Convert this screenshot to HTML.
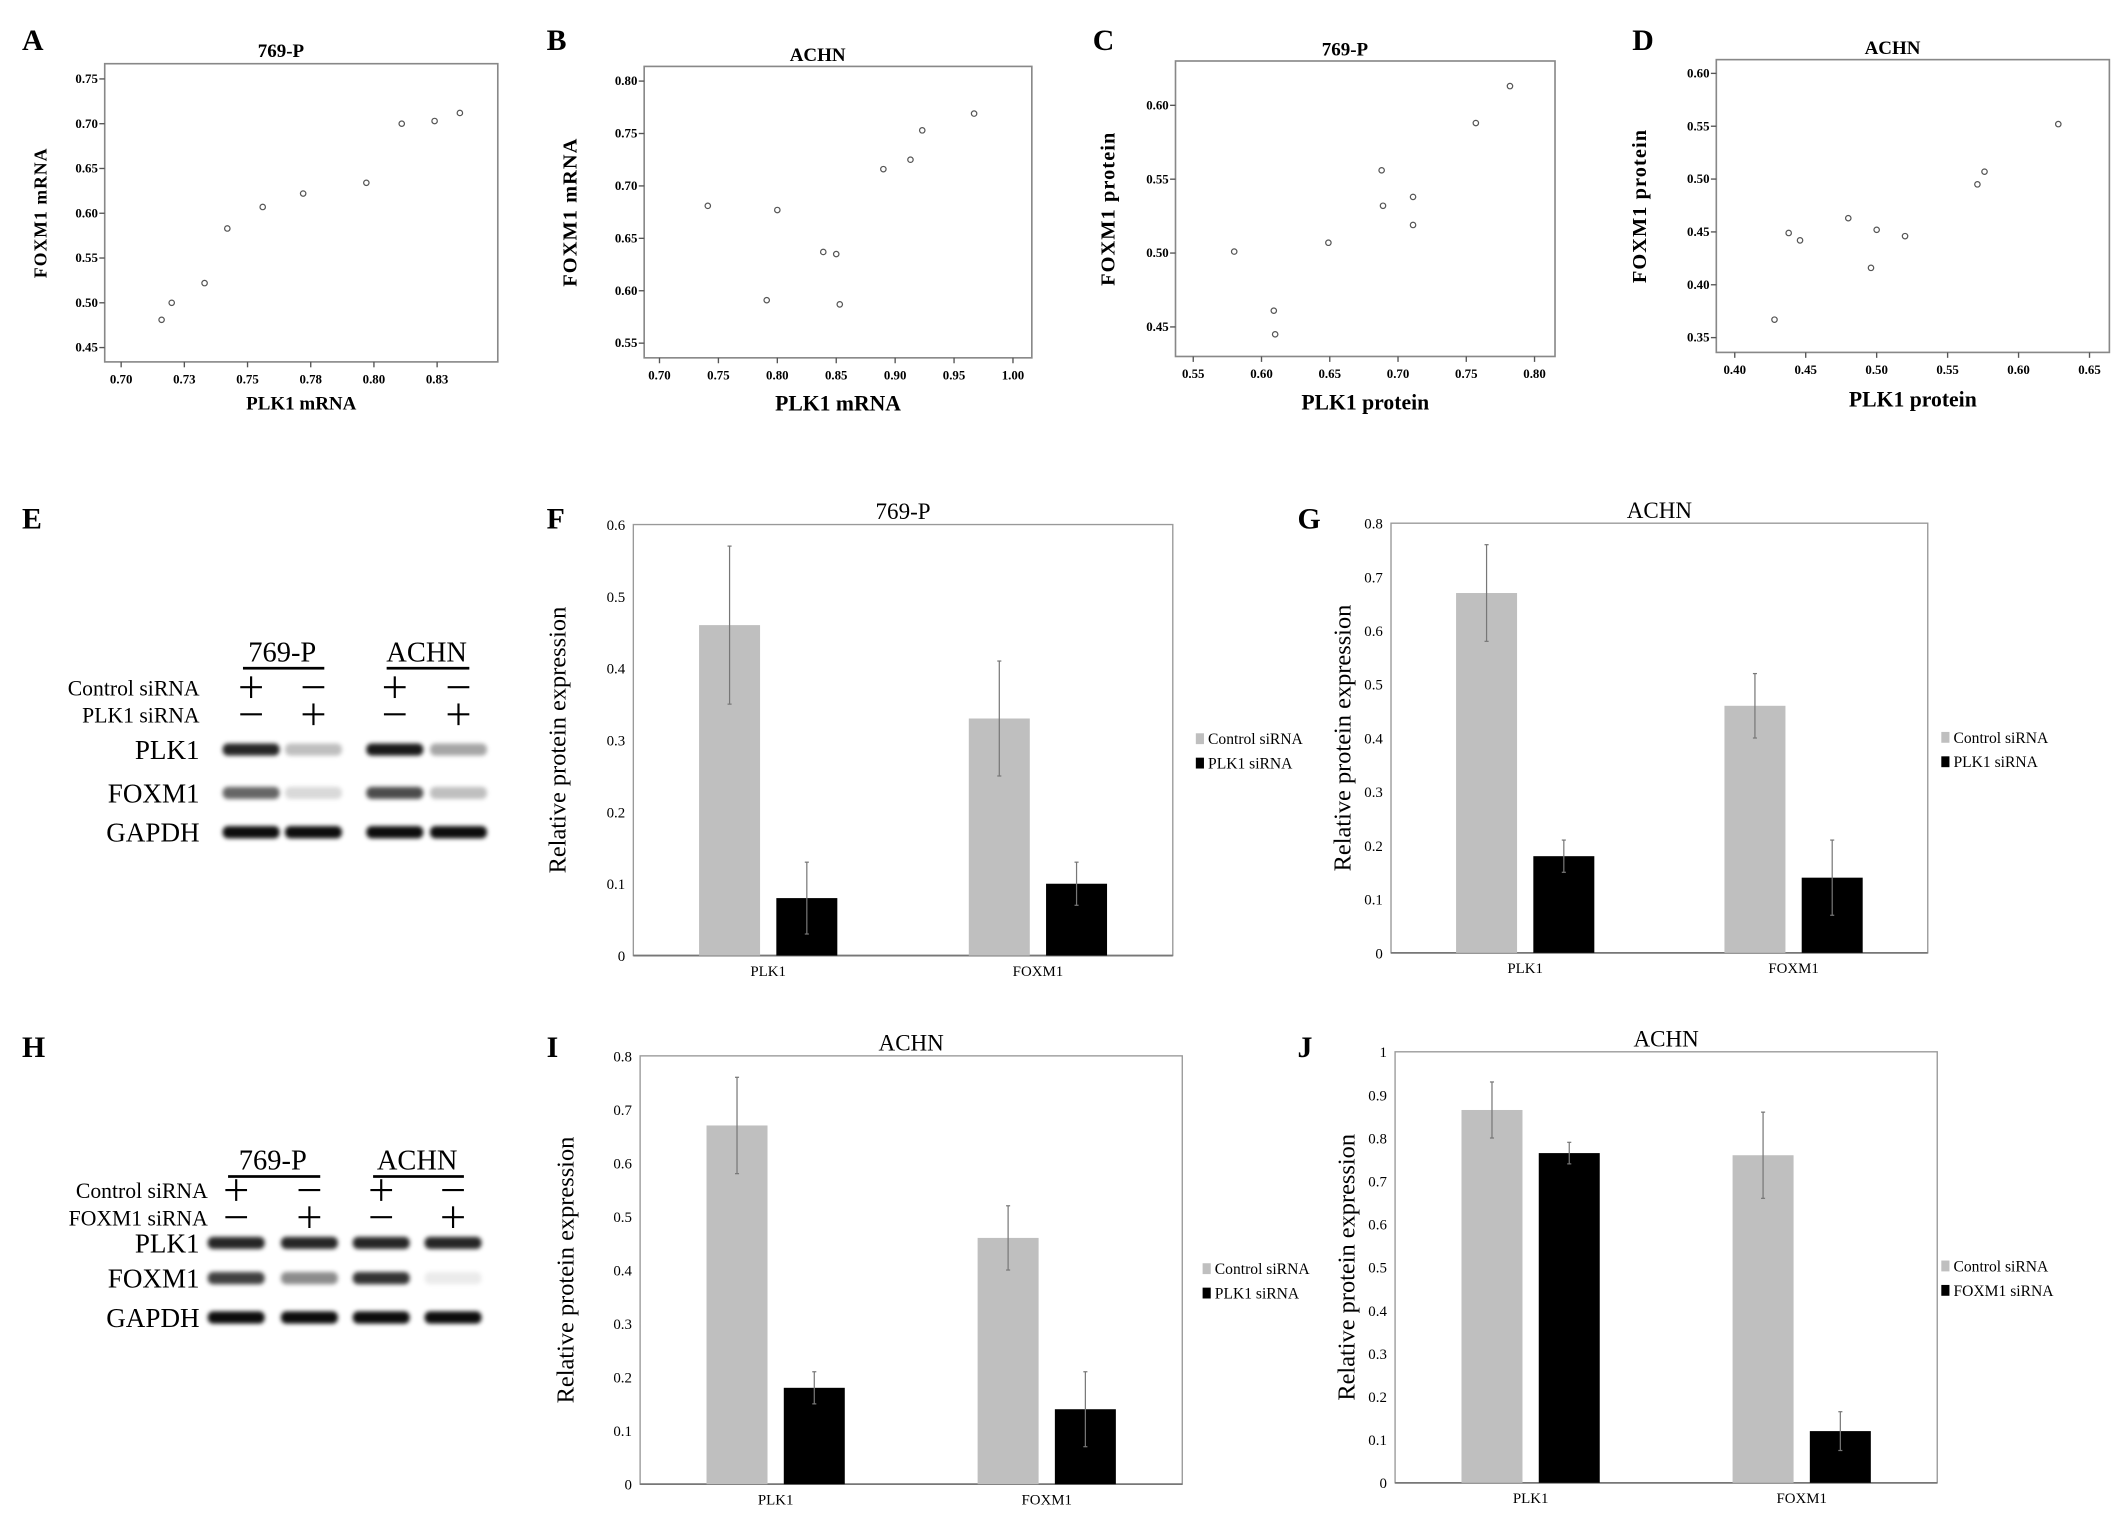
<!DOCTYPE html>
<html><head><meta charset="utf-8">
<style>
html,body{margin:0;padding:0;background:#fff;}
svg{display:block;}
text{font-family:"Liberation Serif",serif;}
</style></head>
<body>
<svg id="fig" width="2126" height="1514" viewBox="0 0 1568 1117" xmlns="http://www.w3.org/2000/svg">
<defs>
<filter id="blur" x="-20%" y="-100%" width="140%" height="300%"><feGaussianBlur stdDeviation="1.6"/></filter>
</defs>
<g id="root"></g>
</svg>
<script>
// ---------- Scatter data ----------
const aX=[0.716,0.720,0.733,0.742,0.756,0.772,0.797,0.811,0.824,0.834];
const aY=[0.481,0.500,0.522,0.583,0.607,0.622,0.634,0.700,0.703,0.712];
const aXTicks=["0.70","0.73","0.75","0.78","0.80","0.83"];
const aXTickVals=[0.70,0.725,0.75,0.775,0.80,0.825];
const aYTicks=[0.45,0.50,0.55,0.60,0.65,0.70,0.75];

const bX=[0.741,0.800,0.791,0.839,0.850,0.853,0.890,0.913,0.923,0.967];
const bY=[0.681,0.677,0.591,0.637,0.635,0.587,0.716,0.725,0.753,0.769];
const bXTicks=[0.70,0.75,0.80,0.85,0.90,0.95,1.00];
const bYTicks=[0.55,0.60,0.65,0.70,0.75,0.80];

const cX=[0.580,0.609,0.610,0.649,0.688,0.689,0.711,0.711,0.757,0.782];
const cY=[0.501,0.461,0.445,0.507,0.556,0.532,0.538,0.519,0.588,0.613];
const cXTicks=[0.55,0.60,0.65,0.70,0.75,0.80];
const cYTicks=[0.45,0.50,0.55,0.60];

const dX=[0.428,0.438,0.446,0.480,0.500,0.496,0.520,0.571,0.576,0.628];
const dY=[0.367,0.449,0.442,0.463,0.452,0.416,0.446,0.495,0.507,0.552];
const dXTicks=[0.40,0.45,0.50,0.55,0.60,0.65];
const dYTicks=[0.35,0.40,0.45,0.50,0.55,0.60];

// ---------- Bar data ----------
const barCats=["PLK1","FOXM1"];
const fCtrl=[0.46,0.33], fCtrlErr=[0.11,0.08];
const fSi=[0.08,0.10], fSiErr=[0.05,0.03];
const fTicks=["0","0.1","0.2","0.3","0.4","0.5","0.6"];
const gCtrl=[0.67,0.46], gCtrlErr=[0.09,0.06];
const gSi=[0.18,0.14], gSiErr=[0.03,0.07];
const gTicks=["0","0.1","0.2","0.3","0.4","0.5","0.6","0.7","0.8"];
const iCtrl=[0.67,0.46], iCtrlErr=[0.09,0.06];
const iSi=[0.18,0.14], iSiErr=[0.03,0.07];
const iTicks=["0","0.1","0.2","0.3","0.4","0.5","0.6","0.7","0.8"];
const jCtrl=[0.865,0.76], jCtrlErr=[0.065,0.10];
const jSi=[0.765,0.12], jSiErr=[0.025,0.045];
const jTicks=["0","0.1","0.2","0.3","0.4","0.5","0.6","0.7","0.8","0.9","1"];

const NS="http://www.w3.org/2000/svg";
const root=document.getElementById('root');
function el(tag,attrs,parent,txt){const e=document.createElementNS(NS,tag);for(const k in attrs)e.setAttribute(k,attrs[k]);if(txt!==undefined)e.textContent=txt;(parent||root).appendChild(e);return e;}
function grp(name){const g=el('g',{});return g;}

function scatter(o){
  const g=grp(o.name);
  const sx=v=>o.L+(v-o.x0)/(o.x1-o.x0)*(o.R-o.L);
  const sy=v=>o.B-(v-o.y0)/(o.y1-o.y0)*(o.B-o.T);
  const lab=el('text',{x:o.lx,y:37,'font-size':22,'font-weight':'bold'},g,o.letter);
  
  const t=el('text',{x:(o.L+o.R)/2-15,y:o.ty,'font-size':14,'font-weight':'bold','text-anchor':'middle'},g,o.title);
  
  const fr=el('rect',{x:o.L,y:o.T,width:o.R-o.L,height:o.B-o.T,fill:'none',stroke:'#888','stroke-width':1.2},g);
  
  o.xt.forEach((v,i)=>{const x=sx(v);
    el('line',{x1:x,y1:o.B,x2:x,y2:o.B+4,stroke:'#555'},g);
    const tt=el('text',{x:x,y:o.B+16,'font-size':9.5,'font-weight':'bold','text-anchor':'middle'},g,o.xl?o.xl[i]:v.toFixed(2));
    });
  o.yt.forEach(v=>{const y=sy(v);
    el('line',{x1:o.L-4,y1:y,x2:o.L,y2:y,stroke:'#555'},g);
    const tt=el('text',{x:o.L-5,y:y+3,'font-size':9.5,'font-weight':'bold','text-anchor':'end'},g,v.toFixed(2));
    });
  o.xs.forEach((v,i)=>{const c=el('circle',{cx:sx(v),cy:sy(o.ys[i]),r:2,fill:'none',stroke:'#555','stroke-width':0.9},g);
    });
  const xt=el('text',{x:(o.L+o.R)/2,y:o.xty,'font-size':o.fs,'font-weight':'bold','text-anchor':'middle'},g,o.xtitle);
  
  const yt=el('text',{x:0,y:0,'font-size':o.fs-1,'font-weight':'bold','text-anchor':'middle','letter-spacing':0.8,transform:`translate(${o.ytx},${(o.T+o.B)/2}) rotate(-90)`},g,o.ytitle);
  
}
scatter({name:'panel-a-scatter',letter:'A',lx:16,title:'769-P',ty:42,L:77,R:367,T:47,B:267,x0:0.6935,x1:0.849,y0:0.434,y1:0.767,xs:aX,ys:aY,xt:aXTickVals,xl:aXTicks,yt:aYTicks,xtitle:'PLK1 mRNA',xty:302,ytitle:'FOXM1 mRNA',ytx:34,fs:14});
scatter({name:'panel-b-scatter',letter:'B',lx:403,title:'ACHN',ty:45,L:475,R:761,T:49,B:264,x0:0.687,x1:1.016,y0:0.536,y1:0.814,xs:bX,ys:bY,xt:bXTicks,yt:bYTicks,xtitle:'PLK1 mRNA',xty:303,ytitle:'FOXM1 mRNA',ytx:425,fs:16});
scatter({name:'panel-c-scatter',letter:'C',lx:806,title:'769-P',ty:41,L:867,R:1147,T:45,B:263,x0:0.537,x1:0.815,y0:0.430,y1:0.630,xs:cX,ys:cY,xt:cXTicks,yt:cYTicks,xtitle:'PLK1 protein',xty:302,ytitle:'FOXM1 protein',ytx:822,fs:16});
scatter({name:'panel-d-scatter',letter:'D',lx:1204,title:'ACHN',ty:40,L:1266,R:1556,T:44,B:260,x0:0.387,x1:0.664,y0:0.336,y1:0.613,xs:dX,ys:dY,xt:dXTicks,yt:dYTicks,xtitle:'PLK1 protein',xty:300,ytitle:'FOXM1 protein',ytx:1214,fs:16});

function bars(o){
  const g=grp(o.name);
  const n=o.ticks.length-1, ymax=parseFloat(o.ticks[n]);
  const sy=v=>o.B-v/ymax*(o.B-o.T);
  const lab=el('text',{x:o.lx,y:o.ly,'font-size':22,'font-weight':'bold'},g,o.letter);
  
  const t=el('text',{x:(o.L+o.R)/2,y:o.T-4,'font-size':17,'text-anchor':'middle'},g,o.title);
  
  const fr=el('rect',{x:o.L,y:o.T,width:o.R-o.L,height:o.B-o.T,fill:'none',stroke:'#999','stroke-width':1},g);
  
  el('line',{x1:o.L,y1:o.B,x2:o.R,y2:o.B,stroke:'#777','stroke-width':1.3},g);
  o.ticks.forEach(s=>{const v=parseFloat(s);const tt=el('text',{x:o.L-6,y:sy(v)+4,'font-size':11,'text-anchor':'end'},g,s);
    });
  const W=o.R-o.L, catW=W/barCats.length, bw=45;
  barCats.forEach((c,i)=>{
    const cx=o.L+catW*(i+0.5);
    [[o.ctrl,o.ctrlErr,'#bfbfbf',-bw-6,'control-bar'],[o.si,o.siErr,'#000',6,'sirna-bar']].forEach(([vals,errs,col,off,nm])=>{
      const v=vals[i],x=cx+off;
      const r=el('rect',{x:x,y:sy(v),width:bw,height:o.B-sy(v),fill:col},g);
      
      const ex=x+bw/2;
      const e=el('line',{x1:ex,y1:sy(v-errs[i]),x2:ex,y2:sy(v+errs[i]),stroke:'#777','stroke-width':0.9},g);
      
      el('line',{x1:ex-1.5,y1:sy(v+errs[i]),x2:ex+1.5,y2:sy(v+errs[i]),stroke:'#777','stroke-width':0.9},g);
      el('line',{x1:ex-1.5,y1:sy(v-errs[i]),x2:ex+1.5,y2:sy(v-errs[i]),stroke:'#777','stroke-width':0.9},g);
    });
    const ct=el('text',{x:cx,y:o.B+15,'font-size':11,'text-anchor':'middle'},g,c);
    
  });
  const yt=el('text',{x:0,y:0,'font-size':18,'text-anchor':'middle',transform:`translate(${o.ytx},${(o.T+o.B)/2}) rotate(-90)`},g,'Relative protein expression');
  
  const lg=el('g',{},g);
  const names=['Control siRNA',o.siName];
  ['#bfbfbf','#000'].forEach((col,k)=>{
    const y=o.legY+k*18;
    el('rect',{x:o.legX,y:y-5,width:6,height:8,fill:col},lg);
    const lt=el('text',{x:o.legX+9,y:y+3,'font-size':11.5},lg,names[k]);
    
  });
}
bars({name:'panel-f-bars',letter:'F',lx:403,ly:390,title:'769-P',L:467,R:865,T:387,B:705,ticks:fTicks,ctrl:fCtrl,ctrlErr:fCtrlErr,si:fSi,siErr:fSiErr,ytx:417,legX:882,legY:546,siName:'PLK1 siRNA'});
bars({name:'panel-g-bars',letter:'G',lx:957,ly:390,title:'ACHN',L:1026,R:1422,T:386,B:703,ticks:gTicks,ctrl:gCtrl,ctrlErr:gCtrlErr,si:gSi,siErr:gSiErr,ytx:996,legX:1432,legY:545,siName:'PLK1 siRNA'});
bars({name:'panel-i-bars',letter:'I',lx:403,ly:780,title:'ACHN',L:472,R:872,T:779,B:1095,ticks:iTicks,ctrl:iCtrl,ctrlErr:iCtrlErr,si:iSi,siErr:iSiErr,ytx:423,legX:887,legY:937,siName:'PLK1 siRNA'});
bars({name:'panel-j-bars',letter:'J',lx:957,ly:780,title:'ACHN',L:1029,R:1429,T:776,B:1094,ticks:jTicks,ctrl:jCtrl,ctrlErr:jCtrlErr,si:jSi,siErr:jSiErr,ytx:999,legX:1432,legY:935,siName:'FOXM1 siRNA'});

// ---------- Western blots ----------
const eLanes=[185,231,291,338];
const eRowNames=['PLK1','FOXM1','GAPDH'];
const eRowY=[553,585,614];
const eIntensity=[[0.85,0.25,0.9,0.35],[0.6,0.15,0.7,0.25],[0.95,0.95,0.95,0.95]];
const hLanes=[174,228,281,334];
const hRowNames=['PLK1','FOXM1','GAPDH'];
const hRowY=[917,943,972];
const hIntensity=[[0.85,0.85,0.85,0.85],[0.75,0.45,0.8,0.08],[0.95,0.95,0.95,0.95]];

function blot(o){
  const g=grp(o.name);
  const lab=el('text',{x:o.lx,y:o.ly,'font-size':22,'font-weight':'bold'},g,o.letter);
  
  [[o.h1,0],[o.h2,2]].forEach(([h,k])=>{
    const cx=(o.lanes[k]+o.lanes[k+1])/2;
    const t=el('text',{x:cx,y:o.hy,'font-size':21,'text-anchor':'middle'},g,h);
    
    el('rect',{x:o.lanes[k]-6,y:o.hy+4,width:o.lanes[k+1]-o.lanes[k]+14,height:2,fill:'#000'},g);
  });
  o.treat.forEach((name,r)=>{
    const y=o.ty[r];
    const t=el('text',{x:o.tx,y:y+6,'font-size':16,'text-anchor':'end'},g,name);
    
    o.lanes.forEach((x,li)=>{
      const plus=(r===0)===(li%2===0);
      el('line',{x1:x-8,y1:y,x2:x+8,y2:y,stroke:'#000','stroke-width':1.6},g);
      if(plus)el('line',{x1:x,y1:y-8,x2:x,y2:y+8,stroke:'#000','stroke-width':1.6},g);
    });
  });
  o.rows.forEach((name,r)=>{
    const y=o.ry[r];
    const t=el('text',{x:o.rx,y:y+7,'font-size':20,'text-anchor':'end'},g,name);
    
    o.lanes.forEach((x,li)=>{
      const v=o.inten[r][li];
      const b=el('rect',{x:x-21,y:y-4.5,width:42,height:9,rx:4,fill:'#000','fill-opacity':v,filter:'url(#blur)'},g);
      
    });
  });
}
blot({name:'panel-e-blot',letter:'E',lx:16,ly:390,lanes:eLanes,h1:'769-P',h2:'ACHN',hy:488,treat:['Control siRNA','PLK1 siRNA'],ty:[507,527],tx:147,rows:eRowNames,ry:eRowY,rx:147,inten:eIntensity});
blot({name:'panel-h-blot',letter:'H',lx:16,ly:780,lanes:hLanes,h1:'769-P',h2:'ACHN',hy:863,treat:['Control siRNA','FOXM1 siRNA'],ty:[878,898],tx:153,rows:hRowNames,ry:hRowY,rx:147,inten:hIntensity});
</script>
</body></html>
